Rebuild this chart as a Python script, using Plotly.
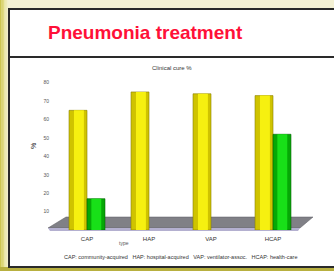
import plotly.graph_objects as go

categories = ["CAP", "HAP", "VAP", "HCAP"]
yellow_vals = [65, 75, 74, 73]
green_vals = [17, None, None, 52]
tick_vals = [10, 20, 30, 40, 50, 60, 70, 80]

W, H = 334, 271
ML, MR, MT, MB = 56, 30, 75, 41
PW, PH = W - ML - MR, H - MT - MB

def px(x):
    return (x - ML) / PW
def py(y):
    return (H - MB - y) / PH

FONT = "Liberation Sans, Arial"
fig = go.Figure()

# yellow cylinders: base body + highlight
fig.add_trace(go.Bar(x=categories, y=yellow_vals, name="Initial",
                     marker=dict(color="#cfc300", line=dict(color="#8a8000", width=0.6)),
                     offset=-0.29, width=0.29,
                     text=[str(v) for v in yellow_vals], textposition="inside",
                     insidetextanchor="end", textfont=dict(size=5, color="#333"),
                     showlegend=False))
fig.add_trace(go.Bar(x=categories, y=yellow_vals, marker=dict(color="#f6f010", line=dict(width=0)),
                     offset=-0.21, width=0.16, hoverinfo="skip", showlegend=False))
# green cylinders
fig.add_trace(go.Bar(x=categories, y=green_vals, name="Final",
                     marker=dict(color="#06a806", line=dict(color="#046004", width=0.6)),
                     offset=0.0, width=0.29,
                     text=[str(v) if v is not None else "" for v in green_vals], textposition="inside",
                     insidetextanchor="middle", textfont=dict(size=5, color="#222"),
                     showlegend=False))
fig.add_trace(go.Bar(x=categories, y=green_vals, marker=dict(color="#18e018", line=dict(width=0)),
                     offset=0.07, width=0.16, hoverinfo="skip", showlegend=False))

shapes = []
# left gradient edge
grad = ["#cdc650", "#d7d168", "#e0db84", "#e8e4a0", "#eeebb8", "#f2efcc"]
for i, c in enumerate(grad):
    shapes.append(dict(type="rect", xref="paper", yref="paper", x0=px(i * 1.4), x1=px(i * 1.4 + 1.5),
                       y0=py(H), y1=py(0), fillcolor=c, line=dict(width=0), layer="below"))
# olive strip at the bottom edge
shapes.append(dict(type="rect", xref="paper", yref="paper", x0=px(0), x1=px(W), y0=py(H), y1=py(267),
                   fillcolor="#b8b040", line=dict(width=0), layer="below"))
# title box
shapes.append(dict(type="rect", xref="paper", yref="paper", x0=px(9), x1=px(340), y0=py(57), y1=py(9),
                   fillcolor="white", line=dict(color="#2a2a2a", width=2), layer="below"))
# chart box
shapes.append(dict(type="rect", xref="paper", yref="paper", x0=px(9), x1=px(340), y0=py(267), y1=py(57),
                   fillcolor="white", line=dict(color="#2a2a2a", width=2), layer="below"))
# floor (3D base)
shapes.append(dict(type="path", xref="paper", yref="paper",
                   path=f"M {px(66)} {py(217)} L {px(313)} {py(217)} L {px(300)} {py(228)} L {px(48)} {py(228)} Z",
                   fillcolor="#808086", line=dict(color="#5a5a60", width=0.5), layer="below"))
shapes.append(dict(type="path", xref="paper", yref="paper",
                   path=f"M {px(48)} {py(228)} L {px(300)} {py(228)} L {px(298)} {py(231)} L {px(50)} {py(231)} Z",
                   fillcolor="#b4b0d0", line=dict(width=0), layer="below"))

annotations = [
    dict(text="<b>Pneumonia treatment</b>", xref="paper", yref="paper", x=px(46), y=py(33),
         xanchor="left", yanchor="middle", showarrow=False,
         font=dict(family=FONT, size=19, color="#ff1038")),
    dict(text="Clinical cure %", xref="paper", yref="paper", x=px(172), y=py(68),
         xanchor="center", yanchor="middle", showarrow=False,
         font=dict(family=FONT, size=6, color="#333")),
    dict(text="%", xref="paper", yref="paper", x=px(33), y=py(146), textangle=-90,
         xanchor="center", yanchor="middle", showarrow=False,
         font=dict(family=FONT, size=7, color="#222")),
    dict(text="type", xref="paper", yref="paper", x=px(124), y=py(243),
         xanchor="center", yanchor="middle", showarrow=False,
         font=dict(family=FONT, size=5, color="#555")),
    dict(text="CAP: community-acquired   HAP: hospital-acquired   VAP: ventilator-assoc.   HCAP: health-care",
         xref="paper", yref="paper", x=px(180), y=py(257),
         xanchor="center", yanchor="middle", showarrow=False,
         font=dict(family=FONT, size=5.5, color="#333")),
]

fig.update_layout(
    width=W, height=H,
    margin=dict(l=ML, r=MR, t=MT, b=MB),
    paper_bgcolor="#f4f1d4",
    plot_bgcolor="rgba(0,0,0,0)",
    barmode="group",
    shapes=shapes,
    annotations=annotations,
    xaxis=dict(showgrid=False, showline=False, zeroline=False, ticks="",
               tickfont=dict(family=FONT, size=6, color="#333"),
               ticklabelstandoff=4),
    yaxis=dict(range=[0, 84.2], tickvals=tick_vals, showgrid=False, showline=False, zeroline=False,
               ticks="", tickfont=dict(family=FONT, size=5, color="#555"),
               ticklabelstandoff=6),
    showlegend=False,
)

fig.write_html("out.html", config={"displayModeBar": False},
               post_script="document.body.style.margin='0';")
